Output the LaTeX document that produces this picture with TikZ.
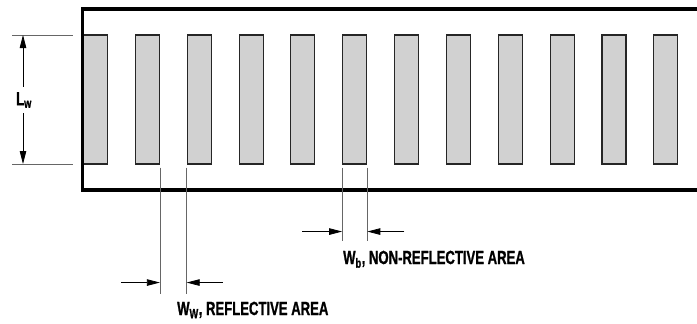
\documentclass[tikz,border=0pt]{standalone}
\usepackage{fontspec}
\setmainfont{Liberation Sans}[FakeStretch=0.69,BoldFeatures={FakeBold=1}]
\usetikzlibrary{arrows.meta,positioning}

\begin{document}
\begin{tikzpicture}[x=1pt,y=-1pt,
    bar/.style={draw=black!85,line width=1.1pt,fill=black!18,inner sep=0pt,
      minimum width=24pt,minimum height=129pt},
    extline/.style={draw=black!60,line width=0.8pt},
    dimarrow/.style={draw=black,line width=0.8pt,-{Triangle[length=13pt,width=6.5pt]}},
    dimlabel/.style={font=\fontsize{19}{21}\selectfont\bfseries,inner sep=0pt}]
  \useasboundingbox (0,0) rectangle (697,324);
  % bars
  \foreach \i in {1,...,12}
    \node[bar] (b\i) at ({95.5+51.85*(\i-1)},99.5) {};
  % frame, open to the right
  \draw[line width=3.5pt] (697,9) -- (82.5,9) -- (82.5,190) -- (697,190);
  % L_w
  \draw[extline] (12,35) -- (73,35);
  \draw[extline] (12,164) -- (73,164);
  \node[dimlabel] (lw) at (24,100) {L\textsubscript{w}};
  \coordinate (lwtop) at (23,35);
  \coordinate (lwbot) at (23,164);
  \draw[dimarrow] ([yshift=5pt]lw.north -| lwtop) -- (lwtop);
  \draw[dimarrow] ([yshift=-5pt]lw.south -| lwbot) -- (lwbot);
  % W_w
  \draw[extline] ([yshift=-3pt]b2.south east) -- ++(0,126) coordinate (wwl);
  \draw[extline] ([yshift=-3pt]b3.south west) -- ++(0,126) coordinate (wwr);
  \coordinate (wwa) at ([yshift=11pt]wwl);
  \coordinate (wwb) at ([yshift=11pt]wwr);
  \draw[dimarrow] ([xshift=-39pt]wwa) -- (wwa);
  \draw[dimarrow] ([xshift=36pt]wwb) -- (wwb);
  \node[dimlabel,anchor=base west] (wwtext) at (177,315) {W\textsubscript{W}, REFLECTIVE AREA};
  % W_b
  \draw[extline] ([yshift=-3pt]b6.south west) -- ++(0,73) coordinate (wbl);
  \draw[extline] ([yshift=-3pt]b6.south east) -- ++(0,73) coordinate (wbr);
  \coordinate (wba) at ([yshift=9pt]wbl);
  \coordinate (wbb) at ([yshift=9pt]wbr);
  \draw[dimarrow] ([xshift=-40pt]wba) -- (wba);
  \draw[dimarrow] ([xshift=37pt]wbb) -- (wbb);
  \node[dimlabel,anchor=base west] (wbtext) at (343,264) {W\textsubscript{b}, NON-REFLECTIVE AREA};
\end{tikzpicture}
\end{document}
